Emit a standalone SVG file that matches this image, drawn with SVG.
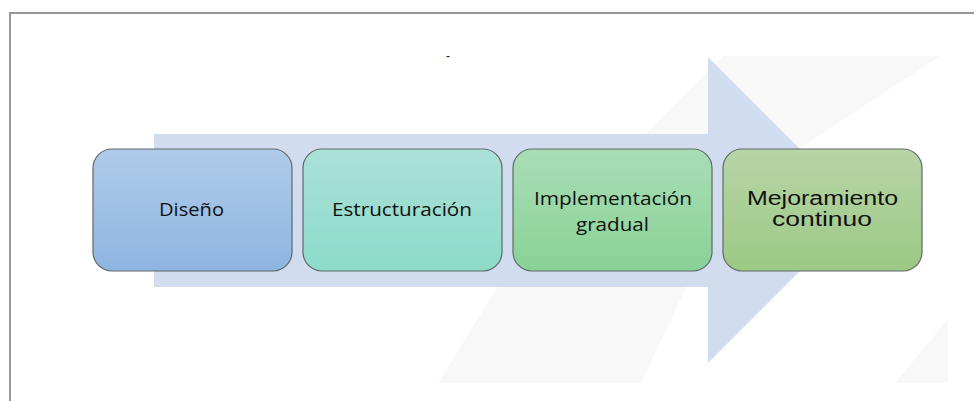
<svg xmlns="http://www.w3.org/2000/svg" width="979" height="401" viewBox="0 0 979 401">
<defs>
<linearGradient id="gBlue" x1="0" y1="0" x2="0" y2="1"><stop offset="0" stop-color="#b0cbe9"/><stop offset="1" stop-color="#8eb5e2"/></linearGradient>
<linearGradient id="gTeal" x1="0" y1="0" x2="0" y2="1"><stop offset="0" stop-color="#aae1d7"/><stop offset="1" stop-color="#8ddbc8"/></linearGradient>
<linearGradient id="gGreen" x1="0" y1="0" x2="0" y2="1"><stop offset="0" stop-color="#a9ddb5"/><stop offset="1" stop-color="#89d296"/></linearGradient>
<linearGradient id="gOlive" x1="0" y1="0" x2="0" y2="1"><stop offset="0" stop-color="#b7d5a8"/><stop offset="1" stop-color="#9cc984"/></linearGradient>
</defs>
<style>
.box{stroke:#606868;stroke-width:1.2}
.cal{font-family:"Open Sans",Lato,"Liberation Sans",sans-serif;font-size:19px;fill:#111}
.ari{font-family:"Liberation Sans",Arial,sans-serif;font-size:20px;fill:#111}
.faint{fill:#f8f8f8}
</style>
<rect width="979" height="401" fill="#ffffff"/>
<g id="background">
<polygon class="faint" points="723,56 940,56 721,200 579,200"/>
<polygon class="faint" points="505,275 692,275 641,383 438,383"/>
<polygon class="faint" points="948,319 948,383 895,383"/>
<polygon fill="#d1dcef" points="154,134 708,134 708,57 861,210 708,363 708,287 154,287"/>
<polyline points="10,401 10,13 974,13" fill="none" stroke="#969696" stroke-width="2"/>
<text x="448" y="59.5" text-anchor="middle" font-family="Liberation Sans, sans-serif" font-size="12" fill="#111">-</text>
</g>
<g id="connectors"></g>
<g id="node-diseno">
<rect class="box" x="93" y="149" width="199" height="122" rx="19" fill="url(#gBlue)"/>
<text class="cal" x="159" y="216" textLength="65" lengthAdjust="spacingAndGlyphs">Diseño</text>
</g>
<g id="node-estructuracion">
<rect class="box" x="303" y="149" width="199" height="122" rx="19" fill="url(#gTeal)"/>
<text class="cal" x="332" y="216" textLength="140" lengthAdjust="spacingAndGlyphs">Estructuración</text>
</g>
<g id="node-implementacion">
<rect class="box" x="513" y="149" width="199" height="122" rx="19" fill="url(#gGreen)"/>
<text class="cal" x="534" y="205" textLength="158" lengthAdjust="spacingAndGlyphs">Implementación</text>
<text class="cal" x="576" y="231" textLength="73" lengthAdjust="spacingAndGlyphs">gradual</text>
</g>
<g id="node-mejoramiento">
<rect class="box" x="723" y="149" width="199" height="122" rx="19" fill="url(#gOlive)"/>
<text class="ari" x="747" y="205" textLength="151" lengthAdjust="spacingAndGlyphs">Mejoramiento</text>
<text class="ari" x="772" y="226" textLength="100" lengthAdjust="spacingAndGlyphs">continuo</text>
</g>
</svg>
